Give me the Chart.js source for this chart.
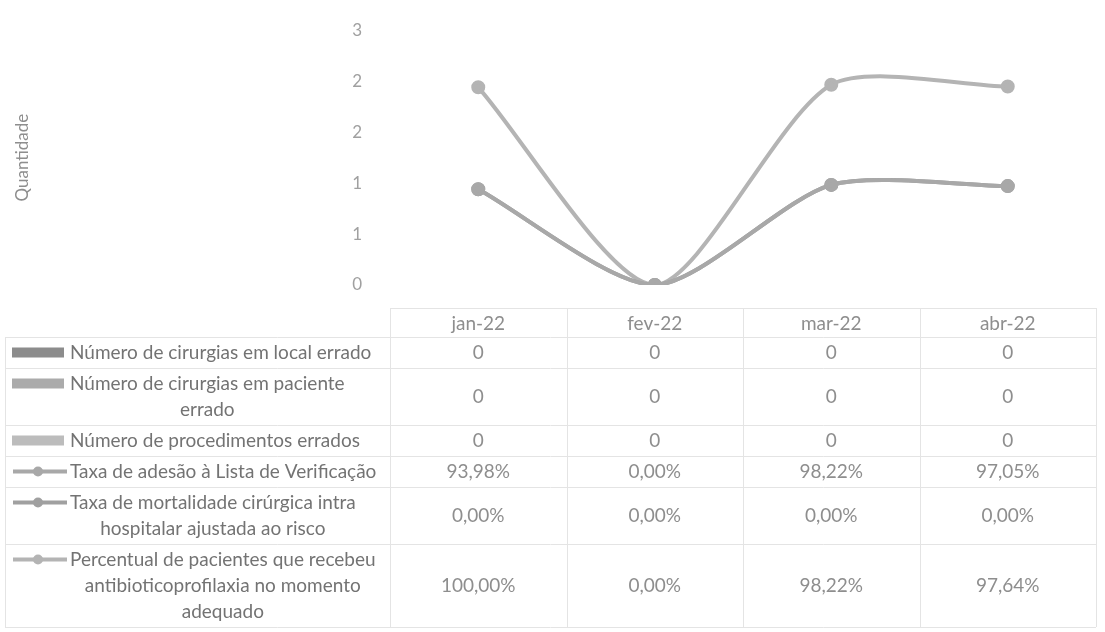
<!DOCTYPE html>
<html>
<head>
<meta charset="utf-8">
<script src="https://cdn.jsdelivr.net/npm/chart.js@4"></script>
<style>
  body { margin: 0; background: #fff; }
  #wrap { width: 1105px; height: 632px; }
</style>
</head>
<body>
<div id="wrap"><canvas id="chart" width="1105" height="632"></canvas></div>
<script>
// categorias (meses)
const months = ['jan-22', 'fev-22', 'mar-22', 'abr-22'];

// series (colunas com valor zero)
const localErrado = [0, 0, 0, 0];
const pacienteErrado = [0, 0, 0, 0];
const procedimentosErrados = [0, 0, 0, 0];

// series de linha (fracao, exibida como %)
const taxaAdesao = [0.9398, 0, 0.9822, 0.9705];
const taxaMortalidade = [0, 0, 0, 0];
const antibioticoprofilaxia = [1.0, 0, 0.9822, 0.9764];

// nomes das series, ja quebrados em linhas como na tabela
const nameLocal = ['Número de cirurgias em local errado'];
const namePaciente = ['Número de cirurgias em paciente', 'errado'];
const nameProced = ['Número de procedimentos errados'];
const nameAdesao = ['Taxa de adesão à Lista de Verificação'];
const nameMortal = ['Taxa de mortalidade cirúrgica intra', 'hospitalar ajustada ao risco'];
const nameAntib = ['Percentual de pacientes que recebeu', 'antibioticoprofilaxia no momento', 'adequado'];

// eixo y
const yTicks = [0, 0.5, 1, 1.5, 2, 2.5];

const FONT = 'Lato, "Open Sans", sans-serif';

function fmtInt(v) { return String(Math.round(v)); }
function fmtPct(v) { return (v * 100).toFixed(2).replace('.', ',') + '%'; }

const datasets = [
  { type: 'bar', label: nameLocal, data: localErrado, backgroundColor: '#8c8c8c', stack: 'bars', fmt: fmtInt, key: 'bar' },
  { type: 'bar', label: namePaciente, data: pacienteErrado, backgroundColor: '#ababab', stack: 'bars', fmt: fmtInt, key: 'bar' },
  { type: 'bar', label: nameProced, data: procedimentosErrados, backgroundColor: '#bcbcbc', stack: 'bars', fmt: fmtInt, key: 'bar' },
  { type: 'line', label: nameAdesao, data: taxaAdesao, borderColor: '#a8a8a8', backgroundColor: '#a8a8a8', stack: 'lines', fmt: fmtPct, key: 'line' },
  { type: 'line', label: nameMortal, data: taxaMortalidade, borderColor: '#a0a0a0', backgroundColor: '#a0a0a0', stack: 'lines', fmt: fmtPct, key: 'line' },
  { type: 'line', label: nameAntib, data: antibioticoprofilaxia, borderColor: '#b4b4b4', backgroundColor: '#b4b4b4', stack: 'lines', fmt: fmtPct, key: 'line' }
];
datasets.forEach(function (d) {
  if (d.type === 'line') {
    d.fill = false;
    d.tension = 0.25;
    d.borderWidth = 4;
    d.pointRadius = 5;
    d.pointHoverRadius = 5;
    d.order = 0;
  } else {
    d.order = 1;
  }
});

// desenha a tabela de dados abaixo do grafico
const dataTable = {
  id: 'dataTable',
  afterDraw(chart) {
    const ctx = chart.ctx;
    const x = chart.scales.x;
    const area = chart.chartArea;
    const colW = (area.right - area.left) / months.length;
    const lineH = 26;
    const top = 308;
    const headH = 29;
    const tableLeft = 5;
    const textLeft = 70;

    ctx.save();
    ctx.font = '19px ' + FONT;
    ctx.textBaseline = 'middle';

    let rows = [];
    let y = top + headH;
    datasets.forEach(function (d) {
      const h = 5 + d.label.length * lineH;
      rows.push({ y0: y, y1: y + h, d: d });
      y += h;
    });
    const bottom = y;

    // bordas
    ctx.strokeStyle = '#e4e4e4';
    ctx.lineWidth = 1;
    ctx.beginPath();
    ctx.moveTo(area.left, top + 0.5);
    ctx.lineTo(area.right, top + 0.5);
    rows.forEach(function (r) {
      ctx.moveTo(tableLeft, Math.round(r.y0) + 0.5);
      ctx.lineTo(area.right, Math.round(r.y0) + 0.5);
    });
    ctx.moveTo(tableLeft, bottom + 0.5);
    ctx.lineTo(area.right, bottom + 0.5);
    ctx.moveTo(tableLeft + 0.5, top + headH);
    ctx.lineTo(tableLeft + 0.5, bottom);
    for (let i = 0; i <= months.length; i++) {
      const cx = Math.round(area.left + i * colW) + 0.5;
      ctx.moveTo(cx, top);
      ctx.lineTo(cx, bottom);
    }
    ctx.stroke();

    // cabecalho
    ctx.textAlign = 'center';
    ctx.fillStyle = '#8e8e8e';
    months.forEach(function (m, i) {
      ctx.fillText(m, x.getPixelForValue(i), top + headH / 2 + 1);
    });

    rows.forEach(function (r) {
      const d = r.d;
      const mid = (r.y0 + r.y1) / 2;
      const firstY = mid - (d.label.length - 1) * lineH / 2;

      // chave da legenda
      if (d.key === 'bar') {
        ctx.fillStyle = d.backgroundColor;
        ctx.fillRect(12, firstY - 5, 52, 10);
      } else {
        ctx.strokeStyle = d.borderColor;
        ctx.lineWidth = 4;
        ctx.beginPath();
        ctx.moveTo(13, firstY);
        ctx.lineTo(67, firstY);
        ctx.stroke();
        ctx.fillStyle = d.borderColor;
        ctx.beginPath();
        ctx.arc(38, firstY, 5, 0, Math.PI * 2);
        ctx.fill();
      }

      // nome da serie
      let blockW = 0;
      d.label.forEach(function (t) { blockW = Math.max(blockW, ctx.measureText(t).width); });
      ctx.fillStyle = '#737373';
      ctx.textAlign = 'center';
      d.label.forEach(function (t, k) {
        ctx.fillText(t, textLeft + blockW / 2, firstY + k * lineH);
      });

      // valores
      ctx.fillStyle = '#8e8e8e';
      d.data.forEach(function (v, i) {
        ctx.fillText(d.fmt(v), x.getPixelForValue(i), mid);
      });
    });
    ctx.restore();
  }
};

new Chart(document.getElementById('chart').getContext('2d'), {
  type: 'bar',
  data: { labels: months, datasets: datasets },
  options: {
    responsive: false,
    animation: false,
    layout: { padding: { top: 16, right: 2, bottom: 632 - 285, left: 0 } },
    plugins: { legend: { display: false }, tooltip: { enabled: false } },
    scales: {
      x: { display: false, offset: true, grid: { display: false } },
      y: {
        stacked: true,
        min: 0,
        max: 2.5,
        afterFit(scale) { scale.width = 390; },
        afterBuildTicks(scale) { scale.ticks = yTicks.map(function (v) { return { value: v }; }); },
        grid: { display: false },
        border: { display: false },
        ticks: {
          padding: 20,
          color: '#a0a0a0',
          font: { family: FONT, size: 17 },
          callback: function (v) { return fmtInt(v); }
        },
        title: {
          display: true,
          text: 'Quantidade',
          color: '#8e8e8e',
          font: { family: FONT, size: 17 },
          padding: { top: 12, bottom: 0 }
        }
      }
    }
  },
  plugins: [dataTable]
});
</script>
</body>
</html>
